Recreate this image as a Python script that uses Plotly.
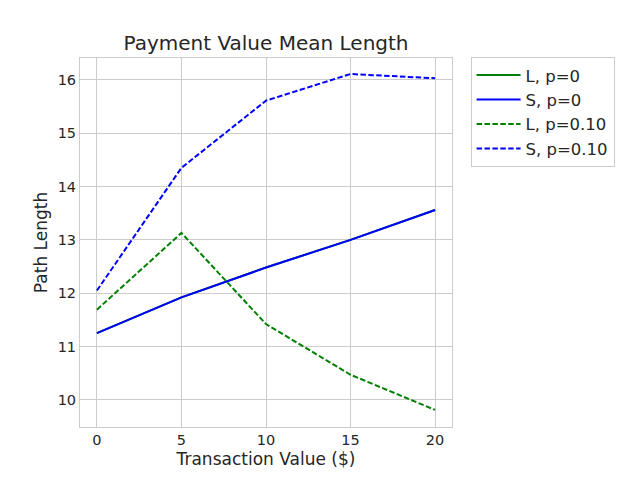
import plotly.graph_objects as go

x_values = [0, 5, 10, 15, 20]
L_p0 = [11.25, 11.92, 12.48, 13.0, 13.56]
S_p0 = [11.25, 11.92, 12.48, 13.0, 13.56]
L_p10 = [11.69, 13.13, 11.42, 10.47, 9.81]
S_p10 = [12.05, 14.35, 15.61, 16.11, 16.03]

series = [
    ("L, p=0", L_p0, "green", "solid"),
    ("S, p=0", S_p0, "blue", "solid"),
    ("L, p=0.10", L_p10, "green", "5.5px,2.4px"),
    ("S, p=0.10", S_p10, "blue", "5.5px,2.4px"),
]

fig = go.Figure()
for name, ys, color, dash in series:
    fig.add_trace(go.Scatter(x=x_values, y=ys, mode="lines", name=name,
                             line=dict(color=color, width=2, dash=dash)))

txt = "#262626"
fig.update_layout(
    width=640, height=480,
    margin=dict(l=80, r=188, t=58, b=53),
    paper_bgcolor="white", plot_bgcolor="white",
    font=dict(family="DejaVu Sans", color=txt, size=14.5),
    title=dict(text="Payment Value Mean Length", x=(80 + 452) / 2 / 640, xanchor="center",
               y=1 - 43 / 480, yanchor="middle", font=dict(size=20, color=txt)),
    showlegend=True,
    legend=dict(x=1.05, y=1.003, xanchor="left", yanchor="top",
                bordercolor="#cccccc", borderwidth=1, bgcolor="white",
                itemwidth=44,
                font=dict(size=16.5, color=txt), tracegroupgap=0),
    xaxis=dict(range=[-1, 21], tickvals=[0, 5, 10, 15, 20],
               showgrid=True, gridcolor="#cccccc", gridwidth=1,
               showline=True, linecolor="#cccccc", linewidth=1, mirror=True,
               zeroline=False, ticks="", ticklen=0,
               tickfont=dict(size=14.5, color=txt),
               title=dict(text="Transaction Value ($)", font=dict(size=17, color=txt), standoff=5)),
    yaxis=dict(range=[9.49, 16.41], tickvals=[10, 11, 12, 13, 14, 15, 16],
               showgrid=True, gridcolor="#cccccc", gridwidth=1,
               showline=True, linecolor="#cccccc", linewidth=1, mirror=True,
               zeroline=False, ticks="", ticklen=0,
               tickfont=dict(size=14.5, color=txt),
               title=dict(text="Path Length", font=dict(size=17, color=txt), standoff=5)),
)

fig.write_html("out.html")
